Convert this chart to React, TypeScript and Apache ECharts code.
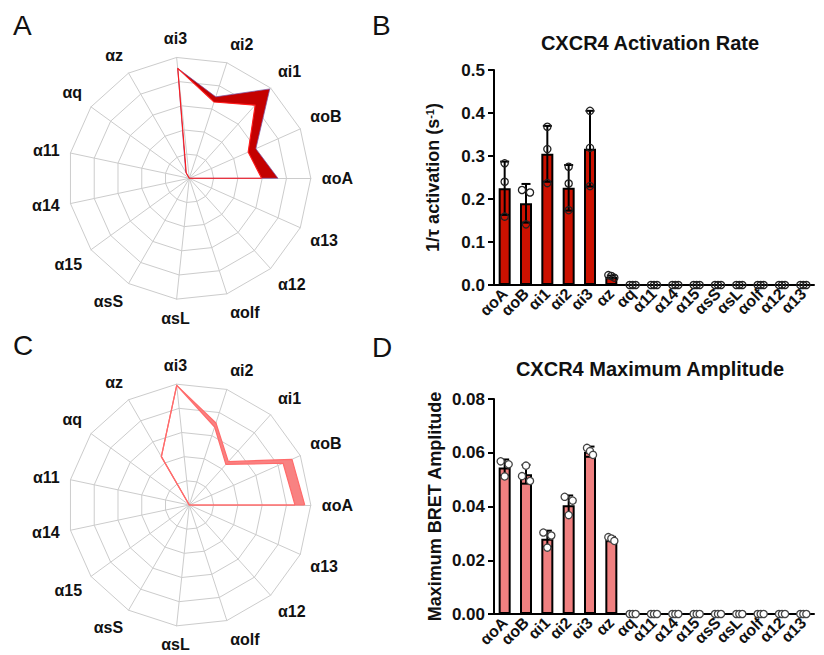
import React, { useEffect, useRef } from 'react';
import * as echarts from 'echarts';

const categories = ['αoA', 'αoB', 'αi1', 'αi2', 'αi3', 'αz', 'αq', 'α11', 'α14', 'α15', 'αsS', 'αsL', 'αolf', 'α12', 'α13'];

// Radar A: normalized activation-rate band (upper / lower edge)
const radarAUpper = [0.73, 0.6, 0.99, 0.705, 0.91, 0.06, 0, 0, 0, 0, 0, 0, 0, 0, 0];
const radarALower = [0.595, 0.53, 0.81, 0.66, 0.91, 0.05, 0, 0, 0, 0, 0, 0, 0, 0, 0];
// Radar C: normalized amplitude band
const radarCUpper = [0.95, 0.925, 0.48, 0.71, 0.99, 0.46, 0, 0, 0, 0, 0, 0, 0, 0, 0];
const radarCLower = [0.87, 0.845, 0.45, 0.675, 0.99, 0.46, 0, 0, 0, 0, 0, 0, 0, 0, 0];

// Panel B: activation rate
const rateMean = [0.225, 0.19, 0.305, 0.226, 0.317, 0.019, 0, 0, 0, 0, 0, 0, 0, 0, 0];
const rateSD = [0.062, 0.045, 0.065, 0.053, 0.088, 0.003, 0, 0, 0, 0, 0, 0, 0, 0, 0];
const ratePoints = [
  [0.283, 0.24, 0.159],
  [0.221, 0.215, 0.141],
  [0.368, 0.316, 0.237],
  [0.275, 0.236, 0.174],
  [0.405, 0.319, 0.23],
  [0.023, 0.021, 0.017],
  [0, 0, 0], [0, 0, 0], [0, 0, 0], [0, 0, 0], [0, 0, 0], [0, 0, 0], [0, 0, 0], [0, 0, 0], [0, 0, 0],
];

// Panel D: maximum amplitude
const ampMean = [0.0545, 0.052, 0.028, 0.0405, 0.0604, 0.0279, 0, 0, 0, 0, 0, 0, 0, 0, 0];
const ampSD = [0.003, 0.0035, 0.003, 0.0036, 0.0019, 0.0008, 0, 0, 0, 0, 0, 0, 0, 0, 0];
const ampPoints = [
  [0.0568, 0.0557, 0.0512],
  [0.0552, 0.0513, 0.0495],
  [0.0303, 0.0292, 0.0247],
  [0.0436, 0.0422, 0.0368],
  [0.0618, 0.0606, 0.0592],
  [0.0286, 0.0281, 0.0272],
  [0, 0, 0], [0, 0, 0], [0, 0, 0], [0, 0, 0], [0, 0, 0], [0, 0, 0], [0, 0, 0], [0, 0, 0], [0, 0, 0],
];

const FONT = '"Liberation Sans", Arial, Helvetica, sans-serif';
const TEXT = '#111';

function jitter(ys: number[]): number[] {
  const idx = ys.map((_, k) => k).sort((a, b) => ys[a] - ys[b]);
  const offs = new Array(ys.length).fill(0);
  let g: number[] = [idx[0]];
  const flush = () => {
    const n = g.length;
    const sp = n === 2 ? 8 : 3;
    g.forEach((k, t) => { offs[k] = (t - (n - 1) / 2) * sp; });
  };
  for (let t = 1; t < idx.length; t++) {
    if (ys[idx[t]] - ys[idx[t - 1]] < 7) g.push(idx[t]);
    else { flush(); g = [idx[t]]; }
  }
  flush();
  return offs;
}

function bandSeries(polarIndex: number, upper: number[], lower: number[], color: string) {
  return {
    type: 'custom',
    coordinateSystem: 'polar',
    polarIndex,
    z: 2,
    silent: true,
    data: upper.map((u, i) => [u, i]),
    encode: { radius: 0, angle: 1 },
    renderItem: (params: any, api: any) => {
      if (params.dataIndex !== 0) return null;
      const n = upper.length;
      const pts: number[][] = [];
      for (let i = 0; i < n; i++) pts.push(api.coord([upper[i], i]));
      pts.push(api.coord([upper[0], 0]));
      pts.push(api.coord([lower[0], 0]));
      for (let i = n - 1; i >= 0; i--) pts.push(api.coord([lower[i], i]));
      return { type: 'polygon', shape: { points: pts }, style: { fill: color } };
    },
  };
}

function errorBarSeries(axisIndex: number, means: number[], sds: number[]) {
  return {
    type: 'custom',
    xAxisIndex: axisIndex,
    yAxisIndex: axisIndex,
    z: 3,
    silent: true,
    data: means.map((m, i) => [i, m, sds[i]]),
    encode: { x: 0, y: 1 },
    renderItem: (params: any, api: any) => {
      const i = api.value(0);
      const m = api.value(1);
      const s = api.value(2);
      const top = api.coord([i, m + s]);
      const bot = api.coord([i, Math.max(0, m - s)]);
      const hw = 4.5;
      const style = { stroke: '#000', lineWidth: 2, fill: null };
      return {
        type: 'group',
        children: [
          { type: 'line', shape: { x1: top[0], y1: top[1], x2: bot[0], y2: bot[1] }, style },
          { type: 'line', shape: { x1: top[0] - hw, y1: top[1], x2: top[0] + hw, y2: top[1] }, style },
          { type: 'line', shape: { x1: bot[0] - hw, y1: bot[1], x2: bot[0] + hw, y2: bot[1] }, style },
        ],
      };
    },
  };
}

function pointsSeries(axisIndex: number, points: number[][], fill: string, stroke: string) {
  const data: number[][] = [];
  points.forEach((arr, i) => arr.forEach((v, j) => data.push([i, v, j])));
  return {
    type: 'custom',
    xAxisIndex: axisIndex,
    yAxisIndex: axisIndex,
    z: 4,
    silent: true,
    data,
    encode: { x: 0, y: 1 },
    renderItem: (params: any, api: any) => {
      const i = api.value(0);
      const j = api.value(2);
      const ys = points[i].map((v) => api.coord([i, v])[1]);
      const offs = jitter(ys);
      const p = api.coord([i, api.value(1)]);
      return {
        type: 'circle',
        shape: { cx: p[0] + offs[j], cy: p[1], r: 3.6 },
        style: { fill, stroke, lineWidth: 1.3 },
      };
    },
  };
}

const CX = 189.3;
const CY_A = 178.3;
const CY_C = 505;
const R = 121.5;

function radarComp(center: number[]) {
  return {
    center,
    radius: R,
    startAngle: 0,
    splitNumber: 5,
    shape: 'polygon',
    indicator: categories.map((name) => ({ name, min: 0, max: 1 })),
    axisName: { show: false },
    splitLine: { lineStyle: { color: '#cccccc', width: 1 } },
    splitArea: { show: false },
    axisLine: { lineStyle: { color: '#cccccc', width: 1 } },
    axisTick: { show: false },
    axisLabel: { show: false },
  };
}

function angleAxis(polarIndex: number) {
  return {
    polarIndex,
    type: 'category',
    data: categories,
    boundaryGap: false,
    startAngle: 0,
    clockwise: false,
    axisLine: { show: false },
    axisTick: { show: false },
    splitLine: { show: false },
    axisLabel: { interval: 0, margin: 11, fontSize: 16, fontWeight: 'bold', color: TEXT, fontFamily: FONT },
  };
}

function xAxis(gridIndex: number) {
  return {
    gridIndex,
    type: 'category',
    data: categories,
    axisLine: { lineStyle: { color: '#000', width: 2 } },
    axisTick: { alignWithLabel: true, length: 6, lineStyle: { color: '#000', width: 2 } },
    axisLabel: { interval: 0, rotate: 45, margin: 6, fontSize: 16, fontWeight: 'bold', color: TEXT, fontFamily: FONT },
  };
}

function yAxis(gridIndex: number, max: number, interval: number, digits: number, name: string, nameGap: number) {
  return {
    gridIndex,
    type: 'value',
    min: 0,
    max,
    interval,
    axisLine: { show: true, lineStyle: { color: '#000', width: 2 } },
    axisTick: { show: true, length: 6, lineStyle: { color: '#000', width: 2 } },
    splitLine: { show: false },
    axisLabel: {
      fontSize: 17, fontWeight: 'bold', color: TEXT, margin: 9, fontFamily: FONT,
      formatter: (v: number) => v.toFixed(digits),
    },
    name,
    nameLocation: 'middle',
    nameRotate: 90,
    nameGap,
    nameTextStyle: {
      fontSize: 18, fontWeight: 'bold', color: TEXT, fontFamily: FONT,
      rich: {
        sup: { fontSize: 11, fontWeight: 'bold', color: TEXT, fontFamily: FONT, verticalAlign: 'top', lineHeight: 11 },
      },
    },
  };
}

function label(text: string, x: number, y: number, size: number, bold: boolean, align: string) {
  return {
    type: 'text',
    x,
    y,
    silent: true,
    style: {
      text,
      fontSize: size,
      fontWeight: bold ? 'bold' : 'normal',
      fontFamily: FONT,
      fill: TEXT,
      align,
      verticalAlign: 'middle',
      textAlign: align,
      textVerticalAlign: 'middle',
    },
  };
}

export default function App() {
  const ref = useRef<HTMLDivElement>(null);

  useEffect(() => {
    if (!ref.current) return;
    const chart = echarts.init(ref.current, undefined, { renderer: 'svg' });
    const option: any = {
      animation: false,
      backgroundColor: '#fff',
      textStyle: { fontFamily: FONT },
      radar: [radarComp([CX, CY_A]), radarComp([CX, CY_C])],
      polar: [
        { center: [CX, CY_A], radius: R },
        { center: [CX, CY_C], radius: R },
      ],
      angleAxis: [angleAxis(0), angleAxis(1)],
      radiusAxis: [
        { polarIndex: 0, type: 'value', min: 0, max: 1, show: false },
        { polarIndex: 1, type: 'value', min: 0, max: 1, show: false },
      ],
      grid: [
        { left: 494, top: 70, width: 320, height: 215 },
        { left: 494, top: 399, width: 320, height: 215 },
      ],
      xAxis: [xAxis(0), xAxis(1)],
      yAxis: [
        yAxis(0, 0.5, 0.1, 1, '1/τ activation (s{sup|-1})', 52),
        yAxis(1, 0.08, 0.02, 2, 'Maximum BRET Amplitude', 50),
      ],
      graphic: [
        label('A', 13, 25, 28, false, 'left'),
        label('B', 372, 25, 28, false, 'left'),
        label('C', 13, 345, 28, false, 'left'),
        label('D', 372, 347, 28, false, 'left'),
        label('CXCR4 Activation Rate', 650, 43, 20, true, 'center'),
        label('CXCR4 Maximum Amplitude', 650, 369, 20, true, 'center'),
      ],
      series: [
        bandSeries(0, radarAUpper, radarALower, '#c40000'),
        bandSeries(1, radarCUpper, radarCLower, '#f88282'),
        {
          type: 'radar',
          radarIndex: 0,
          symbol: 'none',
          silent: true,
          z: 3,
          data: [
            { value: radarAUpper, lineStyle: { color: '#7a5aa8', width: 0.9, opacity: 0.8 } },
            { value: radarALower, lineStyle: { color: '#ff1a1a', width: 1.1 } },
          ],
        },
        {
          type: 'radar',
          radarIndex: 1,
          symbol: 'none',
          silent: true,
          z: 3,
          data: [
            { value: radarCUpper, lineStyle: { color: '#ff6b6b', width: 1.2 } },
            { value: radarCLower, lineStyle: { color: '#ff6b6b', width: 1.2 } },
          ],
        },
        {
          type: 'bar',
          xAxisIndex: 0,
          yAxisIndex: 0,
          data: rateMean,
          barWidth: 12,
          silent: true,
          z: 2,
          itemStyle: { color: '#cc1100', borderColor: '#000', borderWidth: 2 },
        },
        errorBarSeries(0, rateMean, rateSD),
        pointsSeries(0, ratePoints, 'none', '#222'),
        {
          type: 'bar',
          xAxisIndex: 1,
          yAxisIndex: 1,
          data: ampMean,
          barWidth: 12,
          silent: true,
          z: 2,
          itemStyle: { color: '#f08080', borderColor: '#000', borderWidth: 2 },
        },
        errorBarSeries(1, ampMean, ampSD),
        pointsSeries(1, ampPoints, '#fff', '#444'),
      ],
    };
    chart.setOption(option);
    return () => chart.dispose();
  }, []);

  return (
    <div
      ref={ref}
      style={{ position: 'absolute', left: 0, top: 0, width: 824, height: 655, background: '#fff' }}
    />
  );
}
